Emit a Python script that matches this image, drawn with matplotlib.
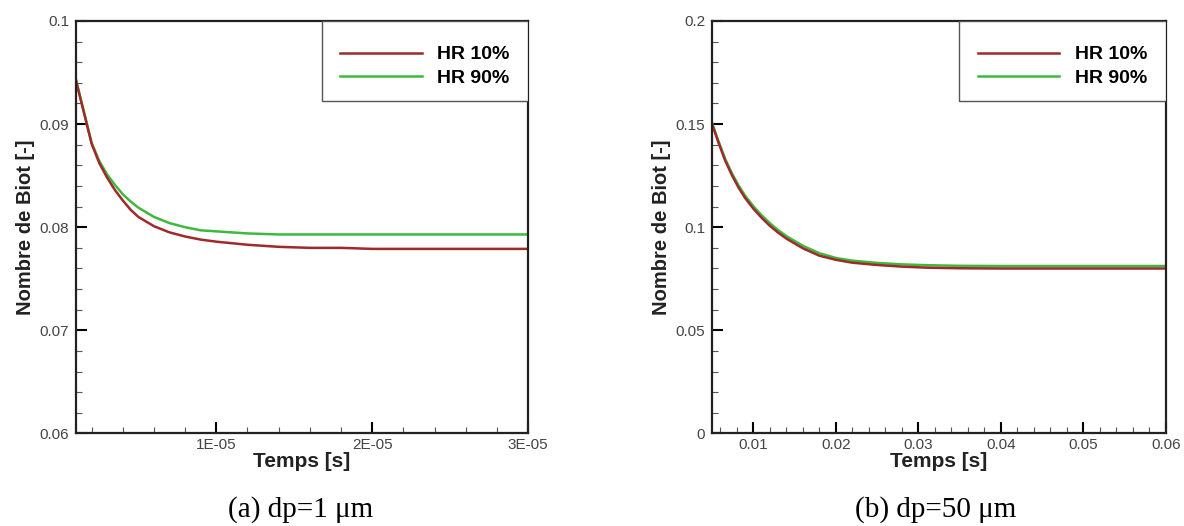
import matplotlib
matplotlib.use("Agg")
import matplotlib.pyplot as plt
from matplotlib.ticker import MultipleLocator, FixedLocator, FixedFormatter
from matplotlib.patches import Rectangle

# (a) dp = 1 um
t_a = [1e-6, 2e-6, 2.5e-6, 3e-6, 3.5e-6, 4e-6, 4.5e-6, 5e-6, 6e-6, 7e-6, 8e-6, 9e-6, 1e-5,
       1.2e-5, 1.4e-5, 1.6e-5, 1.8e-5, 2e-5, 2.5e-5, 3e-5]
hr10_a = [0.0942, 0.0881, 0.0862, 0.0848, 0.0836, 0.0826, 0.0817, 0.0810, 0.0801, 0.0795,
          0.0791, 0.0788, 0.0786, 0.0783, 0.0781, 0.0780, 0.0780, 0.0779, 0.0779, 0.0779]
hr90_a = [0.0943, 0.0882, 0.0864, 0.0851, 0.0841, 0.0832, 0.0825, 0.0819, 0.0810, 0.0804,
          0.0800, 0.0797, 0.0796, 0.0794, 0.0793, 0.0793, 0.0793, 0.0793, 0.0793, 0.0793]

# (b) dp = 50 um
t_b = [0.005, 0.0058, 0.0066, 0.0074, 0.0082, 0.009, 0.010, 0.011, 0.012, 0.013, 0.014,
       0.016, 0.018, 0.020, 0.022, 0.025, 0.028, 0.031, 0.035, 0.04, 0.05, 0.06]
hr10_b = [0.1500, 0.1408, 0.1322, 0.1253, 0.1193, 0.1142, 0.1090, 0.1046, 0.1007, 0.0974,
          0.0945, 0.0898, 0.0862, 0.0842, 0.0828, 0.0817, 0.0809, 0.0804, 0.0801, 0.0800,
          0.0800, 0.0800]
hr90_b = [0.1505, 0.1415, 0.1330, 0.1262, 0.1203, 0.1153, 0.1102, 0.1058, 0.1020, 0.0986,
          0.0957, 0.0910, 0.0874, 0.0851, 0.0838, 0.0827, 0.0820, 0.0816, 0.0813, 0.0812,
          0.0812, 0.0812]

labels = ["HR 10%", "HR 90%"]
colors = ["#9e2a2a", "#3dba3d"]

xticks_a = [1e-5, 2e-5, 3e-5]
xticklabels_a = ["1E-05", "2E-05", "3E-05"]
yticks_a = [0.06, 0.07, 0.08, 0.09, 0.1]
yticklabels_a = ["0.06", "0.07", "0.08", "0.09", "0.1"]

xticks_b = [0.01, 0.02, 0.03, 0.04, 0.05, 0.06]
xticklabels_b = ["0.01", "0.02", "0.03", "0.04", "0.05", "0.06"]
yticks_b = [0, 0.05, 0.1, 0.15, 0.2]
yticklabels_b = ["0", "0.05", "0.1", "0.15", "0.2"]

plt.rcParams["font.family"] = ["Liberation Sans", "DejaVu Sans"]

fig = plt.figure(figsize=(11.84, 5.26), dpi=100)
ax1 = fig.add_axes([0.0642, 0.1759, 0.3818, 0.7842])
ax2 = fig.add_axes([0.6014, 0.1759, 0.3834, 0.7842])


def style_axis(ax, xlim, ylim, xt, xtl, yt, ytl, xminor, yminor):
    ax.set_xlim(*xlim)
    ax.set_ylim(*ylim)
    ax.xaxis.set_major_locator(FixedLocator(xt))
    ax.xaxis.set_major_formatter(FixedFormatter(xtl))
    ax.yaxis.set_major_locator(FixedLocator(yt))
    ax.yaxis.set_major_formatter(FixedFormatter(ytl))
    ax.xaxis.set_minor_locator(MultipleLocator(xminor))
    ax.yaxis.set_minor_locator(MultipleLocator(yminor))
    ax.tick_params(which="major", direction="in", length=8, width=1.5,
                   labelsize=11, labelcolor="#444444", pad=3)
    ax.tick_params(which="minor", direction="in", length=4, width=0.8, color="#555555")
    ax.tick_params(axis="y", which="major", pad=5)
    for s in ax.spines.values():
        s.set_linewidth(1.6)
        s.set_color("#222222")
    ax.set_xlabel("Temps [s]", fontsize=15, fontweight="bold", color="#222222", labelpad=0)
    ax.set_ylabel("Nombre de Biot [-]", fontsize=14.5, fontweight="bold", color="#222222", labelpad=3)


def add_legend(ax, lines):
    ax.add_patch(Rectangle((0.545, 0.805), 0.455, 0.195, transform=ax.transAxes,
                           facecolor="white", edgecolor="#555555", lw=1.0, zorder=5))
    leg = ax.legend(lines, labels, loc="center", bbox_to_anchor=(0.772, 0.89),
                    frameon=False, handlelength=4.2, handletextpad=0.8,
                    labelspacing=0.3, prop={"weight": "bold", "size": 14})
    leg.set_zorder(6)


l1, = ax1.plot(t_a, hr90_a, color=colors[1], lw=1.8)
l0, = ax1.plot(t_a, hr10_a, color=colors[0], lw=1.8)
style_axis(ax1, (1e-6, 3e-5), (0.06, 0.1), xticks_a, xticklabels_a,
           yticks_a, yticklabels_a, 2e-6, 0.002)
add_legend(ax1, [l0, l1])

m1, = ax2.plot(t_b, hr90_b, color=colors[1], lw=1.8)
m0, = ax2.plot(t_b, hr10_b, color=colors[0], lw=1.8)
style_axis(ax2, (0.005, 0.06), (0, 0.2), xticks_b, xticklabels_b,
           yticks_b, yticklabels_b, 0.002, 0.01)
add_legend(ax2, [m0, m1])

fig.text(0.2537, 0.018, "(a) dp=1 \u03bcm", ha="center", va="baseline",
         fontsize=21, family=["Liberation Serif", "DejaVu Serif"])
fig.text(0.790, 0.018, "(b) dp=50 \u03bcm", ha="center", va="baseline",
         fontsize=21, family=["Liberation Serif", "DejaVu Serif"])

fig.savefig("out.png", dpi=100)
